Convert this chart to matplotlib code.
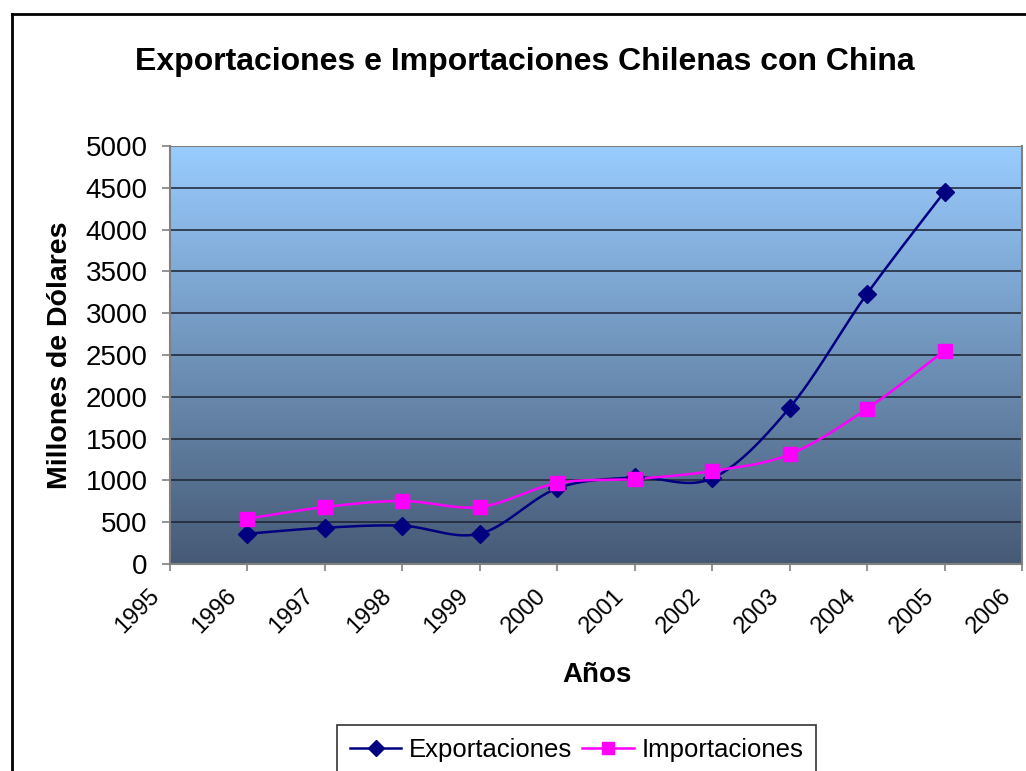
import numpy as np
import matplotlib
matplotlib.use("Agg")
import matplotlib.pyplot as plt
import matplotlib.transforms as mtransforms
from matplotlib.lines import Line2D

plt.rcParams["font.family"] = ["Liberation Sans", "DejaVu Sans"]

years = [1996, 1997, 1998, 1999, 2000, 2001, 2002, 2003, 2004, 2005]
exportaciones = [362, 434, 458, 362, 905, 1035, 1025, 1870, 3233, 4453]
importaciones = [542, 682, 754, 682, 968, 1017, 1112, 1312, 1858, 2552]
xticks = list(range(1995, 2007))
yticks = list(range(0, 5001, 500))

NAVY = "#000080"
MAGENTA = "#FF00FF"


def smooth(x, y, steps=30):
    # Catmull-Rom curve through the points, like a smoothed spreadsheet line
    x = np.asarray(x, float)
    y = np.asarray(y, float)
    px = np.concatenate([[x[0]], x, [x[-1]]])
    py = np.concatenate([[y[0]], y, [y[-1]]])
    xs, ys = [], []
    t = np.linspace(0, 1, steps)
    for i in range(1, len(px) - 2):
        p0, p1, p2, p3 = (np.array([px[j], py[j]]) for j in range(i - 1, i + 3))
        c1 = p1 + (p2 - p0) / 6
        c2 = p2 - (p3 - p1) / 6
        pts = ((1 - t) ** 3)[:, None] * p1 + (3 * (1 - t) ** 2 * t)[:, None] * c1 \
            + (3 * (1 - t) * t ** 2)[:, None] * c2 + (t ** 3)[:, None] * p2
        xs.extend(pts[:, 0])
        ys.extend(pts[:, 1])
    return np.array(xs), np.array(ys)


fig = plt.figure(figsize=(10.26, 7.71), dpi=100)
W, H = 1026, 771
ax = fig.add_axes([170 / W, 1 - 564 / H, (1022 - 170) / W, (564 - 146) / H])

# vertical gradient behind the plot
top = np.array([0x99, 0xCC, 0xFF]) / 255
bottom = np.array([0x46, 0x5A, 0x75]) / 255
f = np.linspace(0, 1, 256)[:, None]
grad = (top * (1 - f) + bottom * f)[:, None, :]
ax.imshow(grad, extent=(1995, 2006, 0, 5000), aspect="auto", origin="upper", zorder=0)

for v in yticks[1:-1]:
    ax.axhline(v, color="#1c2230", lw=1.1, zorder=1)
ax.axhline(5000, color="#808080", lw=1.5, zorder=1)

sx, sy = smooth(years, exportaciones)
ax.plot(sx, sy, color=NAVY, lw=1.8, zorder=3)
ax.plot(years, exportaciones, ls="none", marker="D", ms=9, color=NAVY, zorder=4)
sx, sy = smooth(years, importaciones)
ax.plot(sx, sy, color=MAGENTA, lw=1.8, zorder=3)
ax.plot(years, importaciones, ls="none", marker="s", ms=10, color=MAGENTA, zorder=4)

ax.set_xlim(1995, 2006)
ax.set_ylim(0, 5000)
ax.set_xticks(xticks)
ax.set_yticks(yticks)
ax.tick_params(axis="both", labelsize=20, color="#808080", width=1.2, direction="out")
ax.tick_params(axis="y", length=6, pad=10)
ax.tick_params(axis="x", length=5, labelbottom=False)

# rotated year labels, set a little left of each tick
xlab_tr = ax.get_xaxis_transform() + mtransforms.ScaledTranslation(-22 / 100, -21 / 100, fig.dpi_scale_trans)
for yr in xticks:
    ax.text(yr, 0, str(yr), transform=xlab_tr, rotation=45, ha="right", va="top",
            rotation_mode="anchor", fontsize=17, clip_on=False)

for side in ("left", "bottom", "right"):
    ax.spines[side].set_color("#808080")
    ax.spines[side].set_linewidth(1.5)
ax.spines["top"].set_visible(False)

ax.set_xlabel("Años", fontsize=20, fontweight="bold")
ax.set_ylabel("Millones de Dólares", fontsize=20.5, fontweight="bold")
ax.xaxis.set_label_coords(0.501, -0.235)
ax.yaxis.set_label_coords(-0.114, 0.5)
fig.text(525 / W, 1 - 62 / H, "Exportaciones e Importaciones Chilenas con China",
         ha="center", va="center", fontsize=23, fontweight="bold")

# outer chart border
fig.add_artist(Line2D([12 / W, 12 / W], [0, 1 - 14 / H], color="black", lw=2, transform=fig.transFigure))
fig.add_artist(Line2D([12 / W, 1], [1 - 14 / H, 1 - 14 / H], color="black", lw=2, transform=fig.transFigure))

handles = [
    Line2D([], [], color=NAVY, marker="D", ms=8, lw=1.8),
    Line2D([], [], color=MAGENTA, marker="s", ms=8, lw=1.8),
]
leg = fig.legend(handles, ["Exportaciones", "Importaciones"], loc="upper left",
                 bbox_to_anchor=(337 / W, 1 - 725 / H), ncol=2, fontsize=18.5,
                 frameon=True, fancybox=False, borderpad=0.5, handlelength=2.0,
                 handletextpad=0.3, columnspacing=0.4, borderaxespad=0)
leg.get_frame().set_edgecolor("black")
leg.get_frame().set_linewidth(1.2)

fig.savefig("out.png", dpi=100)
